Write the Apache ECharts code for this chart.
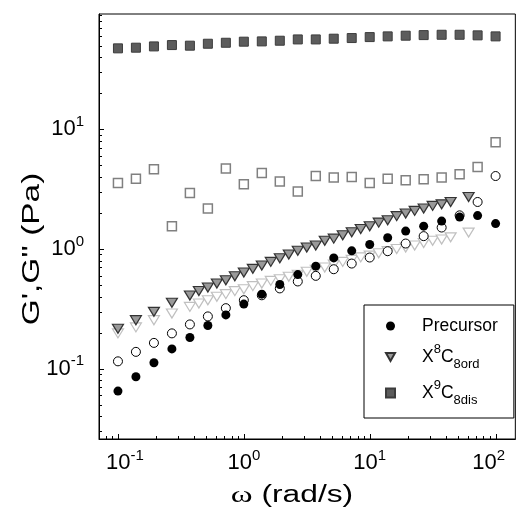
<!DOCTYPE html>
<html><head><meta charset="utf-8">
<script src="https://cdn.jsdelivr.net/npm/echarts@6/dist/echarts.min.js"></script>
<style>html,body{margin:0;padding:0;background:#fff}#c{width:522px;height:508px}</style>
</head><body><div id="c"></div>
<script>
// ---- data ----
const omegaMain = [0.1, 0.1389, 0.1931, 0.2683, 0.3728, 0.5179, 0.7197, 1.0, 1.389, 1.931, 2.683, 3.728, 5.179, 7.197, 10, 13.89, 19.31, 26.83, 37.28, 51.79, 71.97, 100];
const precursorG1 = [0.0649, 0.0855, 0.112, 0.146, 0.182, 0.229, 0.281, 0.346, 0.419, 0.505, 0.611, 0.718, 0.842, 0.964, 1.09, 1.24, 1.41, 1.55, 1.71, 1.85, 1.90, 1.63];
const precursorG2 = [0.115, 0.138, 0.164, 0.197, 0.234, 0.273, 0.320, 0.373, 0.41, 0.468, 0.535, 0.596, 0.677, 0.755, 0.848, 0.958, 1.11, 1.28, 1.51, 1.91, 2.47, 4.07];
const disG1 = [47.5, 48.1, 49.3, 50.6, 50.0, 51.9, 52.9, 54.0, 54.3, 55.0, 56.4, 56.4, 57.2, 57.9, 59.0, 59.8, 60.6, 61.3, 61.7, 61.7, 61.0, 59.8];
const disG2 = [3.56, 3.87, 4.63, 1.55, 2.94, 2.18, 4.70, 3.47, 4.32, 3.66, 3.02, 4.08, 3.95, 4.00, 3.56, 3.87, 3.75, 3.82, 3.95, 4.21, 4.85, 7.79];
const omegaOrd = [0.1, 0.1389, 0.1931, 0.2683, 0.3728, 0.4394, 0.5179, 0.6105, 0.7197, 0.8483, 1.0, 1.179, 1.389, 1.637, 1.931, 2.276, 2.683, 3.162, 3.728, 4.394, 5.179, 6.105, 7.197, 8.483, 10, 11.79, 13.89, 16.38, 19.31, 22.76, 26.83, 31.62, 37.28, 43.94, 61.05];
const ordG1 = [0.215, 0.254, 0.298, 0.355, 0.408, 0.445, 0.477, 0.514, 0.548, 0.592, 0.636, 0.682, 0.727, 0.780, 0.837, 0.898, 0.965, 1.03, 1.07, 1.17, 1.22, 1.30, 1.38, 1.47, 1.55, 1.66, 1.74, 1.88, 1.98, 2.08, 2.18, 2.29, 2.36, 2.47, 2.72];
const ordG2 = [0.197, 0.221, 0.254, 0.289, 0.328, 0.350, 0.373, 0.398, 0.419, 0.444, 0.461, 0.489, 0.514, 0.541, 0.559, 0.585, 0.608, 0.644, 0.67, 0.70, 0.74, 0.78, 0.81, 0.85, 0.88, 0.92, 0.96, 1.00, 1.03, 1.07, 1.12, 1.17, 1.20, 1.25, 1.37];

const xTitle = '{w|ω} (rad/s)';
const yTitle = 'G\',G\'\' (Pa)';
const legendNames = ['Precursor', 'X8C8ord', 'X9C8dis'];
const legendLabels = {
  'Precursor': '{g| }{t|Precursor}',
  'X8C8ord': '{g| }{t|X}{sup|8}{t|C}{sub|8ord}',
  'X9C8dis': '{g| }{t|X}{sup|9}{t|C}{sub|8dis}'
};
const xMajorTicks = [0.1, 1, 10, 100];
const yMajorTicks = [0.1, 1, 10];
const xMinorTicks = [0.08, 0.09, 0.2, 0.3, 0.4, 0.5, 0.6, 0.7, 0.8, 0.9, 2, 3, 4, 5, 6, 7, 8, 9, 20, 30, 40, 50, 60, 70, 80, 90];
const yMinorTicks = [0.03, 0.04, 0.05, 0.06, 0.07, 0.08, 0.09, 0.2, 0.3, 0.4, 0.5, 0.6, 0.7, 0.8, 0.9, 2, 3, 4, 5, 6, 7, 8, 9, 20, 30, 40, 50, 60, 70, 80, 90];

const X_MIN = 0.0707, X_MAX = 143.5, Y_MIN = 0.0258, Y_MAX = 92;
const FONT = 'Liberation Sans';

function pairs(xs, ys) { return xs.map((x, i) => [x, ys[i]]); }
const triDown = 'path://M0,0 L10,0 L5,9 Z';

function tickSeries(values, isX, len) {
  return {
    type: 'custom', silent: true, z: 20, clip: false,
    data: values.map(v => isX ? [v, Y_MIN] : [X_MIN, v]),
    renderItem: function (params, api) {
      const p = api.coord([api.value(0), api.value(1)]);
      if (isX) {
        const x = Math.round(p[0]) + 0.5;
        return { type: 'line', shape: { x1: x, y1: p[1], x2: x, y2: p[1] - len }, style: { stroke: '#000', lineWidth: 1 } };
      } else {
        const y = Math.round(p[1]) + 0.5;
        return { type: 'line', shape: { x1: p[0], y1: y, x2: p[0] + len, y2: y }, style: { stroke: '#000', lineWidth: 1 } };
      }
    }
  };
}

function expLabel(v) {
  const l = Math.log10(v);
  const e = Math.round(l);
  if (Math.abs(l - e) > 1e-6) return '';
  return '{b|10}{s|' + e + '}';
}
function expLabelX(v) {
  const l = Math.log10(v);
  const e = Math.round(l);
  if (Math.abs(l - e) > 1e-6) return '';
  if (e === -1) return '{p|}{b|10}{s|' + e + '}';
  if (e === 2) return '{b|10}{s|' + e + '}{p|}';
  return '{b|10}{s|' + e + '}';
}
const labelRich = {
  b: { fontFamily: FONT, fontSize: 22, lineHeight: 30, verticalAlign: 'middle', color: '#000' },
  s: { fontFamily: FONT, fontSize: 15, lineHeight: 15, verticalAlign: 'top', color: '#000' },
  p: { width: 14, lineHeight: 30 }
};

const chart = echarts.init(document.getElementById('c'), null, { renderer: 'canvas' });
chart.setOption({
  animation: false,
  backgroundColor: '#fff',
  grid: { left: 99, top: 14, right: -2, bottom: 69, show: true, borderColor: '#000', borderWidth: 1, backgroundColor: 'transparent' },
  xAxis: {
    type: 'log', logBase: 10, min: X_MIN, max: X_MAX, splitNumber: 4,
    axisLine: { show: true, lineStyle: { color: '#000', width: 1 } },
    axisTick: { show: false }, minorTick: { show: false }, splitLine: { show: false },
    axisLabel: { formatter: expLabelX, margin: 9, rich: labelRich, showMinLabel: false, showMaxLabel: false }
  },
  yAxis: {
    type: 'log', logBase: 10, min: Y_MIN, max: Y_MAX, splitNumber: 4,
    axisLine: { show: true, lineStyle: { color: '#000', width: 1 } },
    axisTick: { show: false }, minorTick: { show: false }, splitLine: { show: false },
    axisLabel: { formatter: expLabel, margin: 15, rich: labelRich, showMinLabel: false, showMaxLabel: false }
  },
  graphic: [
    { type: 'text', x: 292, y: 496, scaleX: 1.38, scaleY: 1, silent: true,
      style: { text: xTitle, fontFamily: FONT, fontSize: 23, fill: '#000', align: 'center', verticalAlign: 'middle',
        rich: { w: { fontFamily: 'Liberation Serif', fontSize: 24, fill: '#000' } } } },
    { type: 'text', x: 33, y: 249, rotation: Math.PI / 2, scaleX: 1.45, scaleY: 1, silent: true,
      style: { text: yTitle, fontFamily: FONT, fontSize: 23, fill: '#000', align: 'center', verticalAlign: 'middle' } }
  ],
  legend: {
    data: legendNames, orient: 'vertical', left: 364, top: 305,
    padding: [12, 16, 11, 21], itemGap: 8, itemWidth: 9, itemHeight: 9,
    borderColor: '#000', borderWidth: 1, backgroundColor: '#fff',
    formatter: name => legendLabels[name],
    textStyle: {
      rich: {
        g: { width: 22, fontSize: 17, lineHeight: 28 },
        t: { fontFamily: FONT, fontSize: 17.5, lineHeight: 28, verticalAlign: 'middle', color: '#000' },
        sup: { fontFamily: FONT, fontSize: 13, lineHeight: 13, verticalAlign: 'top', color: '#000' },
        sub: { fontFamily: FONT, fontSize: 13, lineHeight: 13, verticalAlign: 'bottom', color: '#000' }
      }
    }
  },
  series: [
    { name: 'X9C8dis G2', type: 'scatter', data: pairs(omegaMain, disG2), symbol: 'rect', symbolSize: 9,
      itemStyle: { color: '#fff', borderColor: '#808080', borderWidth: 1.5, opacity: 1 }, z: 2 },
    { name: 'X9C8dis', type: 'scatter', data: pairs(omegaMain, disG1), symbol: 'rect', symbolSize: 9,
      itemStyle: { color: '#5c5c5c', borderColor: '#3c3c3c', borderWidth: 1, opacity: 1 }, z: 3 },
    { name: 'X8C8ord G2', type: 'scatter', data: pairs(omegaOrd, ordG2), symbol: triDown, symbolSize: [11, 9],
      itemStyle: { color: '#fff', borderColor: '#c0c0c0', borderWidth: 1.2, opacity: 1 }, z: 4 },
    { name: 'X8C8ord', type: 'scatter', data: pairs(omegaOrd, ordG1), symbol: triDown, symbolSize: [11, 9],
      itemStyle: { color: '#999999', borderColor: '#333333', borderWidth: 1.2, opacity: 1 }, z: 5 },
    { name: 'Precursor G2', type: 'scatter', data: pairs(omegaMain, precursorG2), symbol: 'circle', symbolSize: 9,
      itemStyle: { color: '#fff', borderColor: '#000', borderWidth: 1, opacity: 1 }, z: 6 },
    { name: 'Precursor', type: 'scatter', data: pairs(omegaMain, precursorG1), symbol: 'circle', symbolSize: 9,
      itemStyle: { color: '#000', opacity: 1 }, z: 7 },
    tickSeries(xMajorTicks, true, 5),
    tickSeries(xMinorTicks, true, 3),
    tickSeries(yMajorTicks, false, 5),
    tickSeries(yMinorTicks, false, 3)
  ]
});
</script></body></html>
